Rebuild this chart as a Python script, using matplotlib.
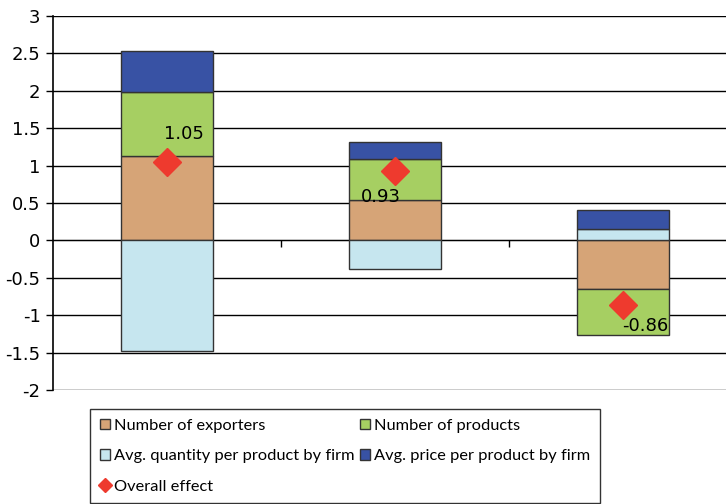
import numpy as np
import matplotlib.pyplot as plt
from matplotlib.patches import Patch
from matplotlib.lines import Line2D

groups = ["A", "B", "C"]
exporters = [1.13, 0.54, -0.65]
products = [0.85, 0.55, -0.61]
quantity = [-1.48, -0.38, 0.15]
price = [0.55, 0.22, 0.25]
overall = [1.05, 0.93, -0.86]
labels = ["1.05", "0.93", "-0.86"]

series = [exporters, products, quantity, price]
names = ["Number of exporters", "Number of products",
         "Avg. quantity per product by firm", "Avg. price per product by firm"]
colors = ["#D6A477", "#A6CF62", "#C6E6EF", "#3852A4"]

fig = plt.figure(figsize=(7.26, 5.04), dpi=100)
ax = fig.add_axes([53 / 726, 1 - 390 / 504, 684 / 726, 374 / 504])

x = np.arange(len(groups))
pos_base = np.zeros(len(groups))
neg_base = np.zeros(len(groups))
for vals, c in zip(series, colors):
    vals = np.array(vals)
    bottoms = np.where(vals >= 0, pos_base, neg_base)
    ax.bar(x, vals, 0.4, bottom=bottoms, color=c, edgecolor="#333333",
           linewidth=1, zorder=3)
    pos_base = pos_base + np.clip(vals, 0, None)
    neg_base = neg_base + np.clip(vals, None, 0)

ax.plot(x, overall, "D", color="#EE3A2E", markersize=14, zorder=4)
offsets = [(12, 20), (-10, -19), (16, -15)]
for xi, yi, lab, off in zip(x, overall, labels, offsets):
    ax.annotate(lab, (xi, yi), xytext=off, textcoords="offset points",
                ha="center", va="center", fontsize=13, zorder=5)

ax.set_xlim(-0.5, 2.5)
ax.set_ylim(-2, 3)
ax.set_yticks(np.arange(-2, 3.01, 0.5))
ax.set_yticklabels(["-2", "-1.5", "-1", "-0.5", "0", "0.5", "1", "1.5",
                    "2", "2.5", "3"])
ax.grid(axis="y", color="black", linewidth=1, zorder=1)
ax.set_axisbelow(True)
ax.tick_params(axis="y", labelsize=13, length=5, width=1, pad=4)

ax.spines["bottom"].set_position(("data", 0))
ax.spines["top"].set_visible(False)
ax.spines["right"].set_visible(False)
ax.spines["left"].set_linewidth(1.2)
ax.set_xticks([0.5, 1.5])
ax.set_xticklabels([])
ax.tick_params(axis="x", direction="out", length=5, width=1)

handles = [
    Patch(facecolor=colors[0], edgecolor="#333333", label=names[0]),
    Patch(facecolor=colors[2], edgecolor="#333333", label=names[2]),
    Line2D([], [], marker="D", color="#EE3A2E", linestyle="none",
           markersize=7, label="Overall effect"),
    Patch(facecolor=colors[1], edgecolor="#333333", label=names[1]),
    Patch(facecolor=colors[3], edgecolor="#333333", label=names[3]),
]
leg = fig.legend(handles=handles, ncol=2, loc="upper left",
                 bbox_to_anchor=(90 / 726, 1 - 409 / 504),
                 prop={"family": ["Lato", "DejaVu Sans"], "size": 11.8},
                 frameon=True, fancybox=False, borderaxespad=0,
                 handlelength=0.6, handleheight=0.6, handletextpad=0.25,
                 columnspacing=0.35, labelspacing=1.0, borderpad=0.6)
leg.get_frame().set_edgecolor("black")
leg.get_frame().set_linewidth(1)

fig.savefig("out.png", dpi=100)
